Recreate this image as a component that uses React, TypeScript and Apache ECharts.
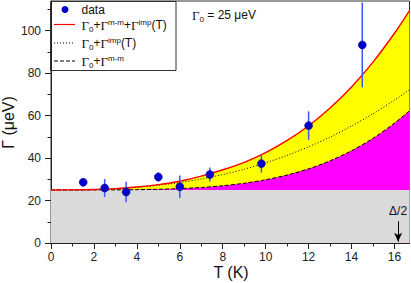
import React, { useEffect, useRef } from "react";
import * as echarts from "echarts";

// Measured data points
const dataT = [1.5, 2.5, 3.5, 5.0, 6.0, 7.4, 9.8, 12.0, 14.5];
const dataG = [28.6, 25.9, 24.0, 31.1, 26.5, 32.3, 37.4, 55.3, 93.3];
const dataErr = [1.9, 4.2, 4.8, 2.2, 5.3, 3.3, 4.2, 6.7, 20.0];

// Fit curves
const curveT = [0, 1, 2, 3, 4, 5, 6, 7, 8, 9, 10, 11, 12, 13, 14, 15, 16, 16.7];
const fullFit = [25, 25.04, 25.22, 25.63, 26.36, 27.48, 29.1, 31.5, 34.5, 38.0, 42.6, 48.3, 55.25, 63.6, 73.5, 85.2, 98.8, 109.5];
const impFit = [25, 25.04, 25.21, 25.59, 26.24, 27.18, 28.47, 30.14, 32.23, 34.77, 37.77, 41.3, 45.3, 49.9, 55.1, 60.9, 67.3, 72.2];
const mmFit = [25, 25, 25.01, 25.04, 25.12, 25.3, 25.62, 26.15, 26.97, 28.15, 29.8, 32.03, 34.95, 38.71, 43.44, 49.3, 56.46, 62.33];
const gamma0 = 25;

const xMajorTicks = [0, 2, 4, 6, 8, 10, 12, 14, 16];
const xMinorTicks = [1, 3, 5, 7, 9, 11, 13, 15];
const yMajorTicks = [0, 20, 40, 60, 80, 100];
const yMinorTicks = [10, 30, 50, 70, 90, 110];

const X_MAX = 16.7;
const Y_MAX = 114;
const DELTA_HALF = 16.17;

const SANS = "'Liberation Sans', Arial, sans-serif";
const SERIF = "'Liberation Serif', 'Times New Roman', serif";

const richStyles = {
  g: { fontFamily: SERIF, fontSize: 13, lineHeight: 18, verticalAlign: "middle" as const },
  t: { fontFamily: SANS, fontSize: 12, lineHeight: 18, verticalAlign: "middle" as const },
  sub: { fontFamily: SANS, fontSize: 8, lineHeight: 8, verticalAlign: "bottom" as const, padding: [0, 0, 1, 0] },
  sup: { fontFamily: SANS, fontSize: 8, lineHeight: 8, verticalAlign: "top" as const, padding: [2, 0, 0, 0] },
};

export default function App() {
  const ref = useRef<HTMLDivElement>(null);
  useEffect(() => {
    if (!ref.current) return;
    const chart = echarts.init(ref.current, null, { renderer: "svg" });
    const pairs = (ys: number[]) => curveT.map((t, i) => [t, ys[i]]);
    const axisColor = "#222";
    const baseX = {
      type: "value" as const,
      min: 0,
      max: X_MAX,
      position: "bottom" as const,
      splitLine: { show: false },
    };
    const baseY = {
      type: "value" as const,
      min: 0,
      max: Y_MAX,
      position: "left" as const,
      splitLine: { show: false },
    };
    chart.setOption({
      animation: false,
      grid: {
        left: 51,
        right: 1.5,
        top: 1,
        bottom: 40,
        show: true,
        borderColor: "#333",
        borderWidth: 1,
        backgroundColor: "transparent",
      },
      xAxis: [
        {
          ...baseX,
          interval: 2,
          axisLine: { lineStyle: { color: axisColor, width: 1 } },
          axisTick: { length: 6, customValues: xMajorTicks, lineStyle: { color: axisColor } },
          axisLabel: { customValues: xMajorTicks, fontSize: 12, color: axisColor, fontFamily: SANS, margin: 8 },
        },
        {
          ...baseX,
          interval: 1,
          axisLine: { show: false },
          axisTick: { length: 3.5, customValues: xMinorTicks, lineStyle: { color: axisColor } },
          axisLabel: { show: false },
        },
      ],
      yAxis: [
        {
          ...baseY,
          interval: 20,
          axisLine: { show: true, lineStyle: { color: axisColor, width: 1 } },
          axisTick: { show: true, length: 6, customValues: yMajorTicks, lineStyle: { color: axisColor } },
          axisLabel: { customValues: yMajorTicks, fontSize: 12, color: axisColor, fontFamily: SANS, margin: 10 },
        },
        {
          ...baseY,
          interval: 10,
          axisLine: { show: false },
          axisTick: { show: true, length: 3.5, customValues: yMinorTicks, lineStyle: { color: axisColor } },
          axisLabel: { show: false },
        },
      ],
      series: [
        {
          type: "line",
          z: 1,
          data: pairs(fullFit),
          smooth: 0.3,
          symbol: "none",
          lineStyle: { width: 0, opacity: 0 },
          areaStyle: { color: "#ffff00", opacity: 1 },
          silent: true,
        },
        {
          type: "line",
          z: 1,
          data: pairs(mmFit),
          smooth: 0.3,
          symbol: "none",
          lineStyle: { width: 0, opacity: 0 },
          areaStyle: { color: "#ff00ff", opacity: 1 },
          silent: true,
        },
        {
          type: "line",
          z: 1,
          data: [[0, gamma0], [X_MAX, gamma0]],
          symbol: "none",
          lineStyle: { width: 0, opacity: 0 },
          areaStyle: { color: "#dadada", opacity: 1 },
          silent: true,
        },
        {
          type: "line",
          z: 3,
          data: pairs(impFit),
          smooth: 0.3,
          symbol: "none",
          lineStyle: { color: "#000", width: 1, type: [1, 2] },
          silent: true,
        },
        {
          type: "line",
          z: 3,
          data: pairs(mmFit),
          smooth: 0.3,
          symbol: "none",
          lineStyle: { color: "#000", width: 1, type: [4, 2] },
          silent: true,
          markLine: {
            silent: true,
            symbol: ["none", "arrow"],
            symbolSize: [6, 9],
            lineStyle: { color: "#000", width: 1, type: "solid" },
            label: {
              show: true,
              position: "start",
              formatter: "Δ/2",
              fontSize: 12,
              color: "#111",
              fontFamily: SANS,
              distance: 4,
            },
            data: [[{ coord: [DELTA_HALF, 10.3] }, { coord: [DELTA_HALF, 0.6] }]],
          },
        },
        {
          type: "line",
          z: 3,
          data: pairs(fullFit),
          smooth: 0.3,
          symbol: "none",
          lineStyle: { color: "#ff0000", width: 1.4 },
          silent: true,
        },
        {
          type: "custom",
          z: 5,
          data: dataT.map((t, i) => [t, dataG[i]]),
          renderItem: (params: any, api: any) => {
            const i = params.dataIndex;
            const lo = api.coord([dataT[i], dataG[i] - dataErr[i]]);
            const hi = api.coord([dataT[i], dataG[i] + dataErr[i]]);
            return {
              type: "line",
              shape: { x1: lo[0], y1: lo[1], x2: hi[0], y2: hi[1] },
              style: { stroke: "#3a55ff", lineWidth: 1.5 },
            };
          },
          clip: false,
          silent: true,
        },
        {
          type: "scatter",
          z: 6,
          data: dataT.map((t, i) => [t, dataG[i]]),
          symbol: "circle",
          symbolSize: 8,
          itemStyle: { color: "#0000cc", borderColor: "#000080", borderWidth: 0.5, opacity: 1 },
          silent: true,
        },
      ],
      graphic: [
        {
          type: "text",
          x: 8.5,
          y: 122.5,
          rotation: Math.PI / 2,
          style: {
            text: "Γ (μeV)",
            fontSize: 16,
            fontFamily: SANS,
            fill: "#111",
            align: "center",
            verticalAlign: "middle",
          },
        },
        {
          type: "text",
          x: 231,
          y: 272,
          style: {
            text: "T (K)",
            fontSize: 16,
            fontFamily: SANS,
            fill: "#111",
            align: "center",
            verticalAlign: "middle",
          },
        },
        {
          type: "text",
          x: 192,
          y: 15,
          style: {
            text: "{g|Γ}{sub|0}{t| = 25 μeV}",
            rich: richStyles,
            fill: "#111",
            align: "left",
            verticalAlign: "middle",
          },
        },
        {
          type: "group",
          z: 10,
          children: [
            {
              type: "rect",
              shape: { x: 50.5, y: 1.5, width: 125.5, height: 69 },
              style: { fill: "#fff", stroke: "#333", lineWidth: 1 },
            },
            {
              type: "circle",
              shape: { cx: 65, cy: 9.5, r: 3.5 },
              style: { fill: "#0000cc" },
            },
            {
              type: "line",
              shape: { x1: 54, y1: 24.5, x2: 75, y2: 24.5 },
              style: { stroke: "#ff0000", lineWidth: 1.2 },
            },
            {
              type: "line",
              shape: { x1: 54, y1: 43, x2: 75, y2: 43 },
              style: { stroke: "#000", lineWidth: 1, lineDash: [1, 2] },
            },
            {
              type: "line",
              shape: { x1: 54, y1: 61, x2: 75, y2: 61 },
              style: { stroke: "#000", lineWidth: 1, lineDash: [4, 2] },
            },
            {
              type: "text",
              x: 81.5,
              y: 9.5,
              style: { text: "data", fontSize: 12, fontFamily: SANS, fill: "#111", verticalAlign: "middle" },
            },
            {
              type: "text",
              x: 81.5,
              y: 25,
              style: {
                text: "{g|Γ}{sub|0}{t|+}{g|Γ}{sup|m-m}{t|+}{g|Γ}{sup|imp}{t|(T)}",
                rich: richStyles,
                fill: "#111",
                verticalAlign: "middle",
              },
            },
            {
              type: "text",
              x: 81.5,
              y: 43,
              style: {
                text: "{g|Γ}{sub|0}{t|+}{g|Γ}{sup|imp}{t|(T)}",
                rich: richStyles,
                fill: "#111",
                verticalAlign: "middle",
              },
            },
            {
              type: "text",
              x: 81.5,
              y: 61,
              style: {
                text: "{g|Γ}{sub|0}{t|+}{g|Γ}{sup|m-m}",
                rich: richStyles,
                fill: "#111",
                verticalAlign: "middle",
              },
            },
          ],
        },
      ],
    });
    return () => chart.dispose();
  }, []);
  return (
    <div
      ref={ref}
      style={{ position: "fixed", left: 0, top: 0, width: 411, height: 283, background: "#fff" }}
    />
  );
}
